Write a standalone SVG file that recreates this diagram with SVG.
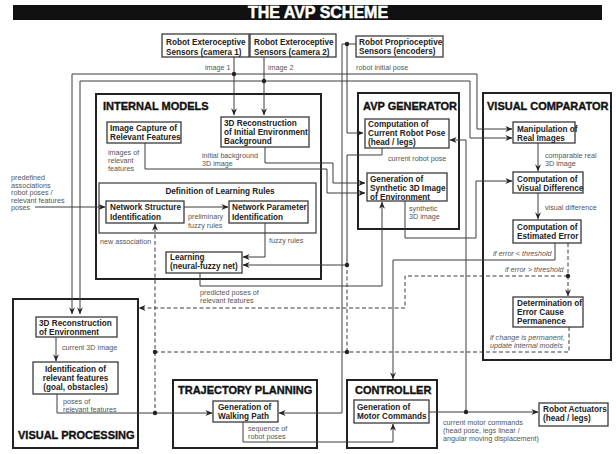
<svg xmlns="http://www.w3.org/2000/svg" width="616" height="454" viewBox="0 0 616 454">
  <style>
    .grp { fill: none; stroke: #222; stroke-width: 2; }
    .box { fill: #fff; stroke: #3a3a3a; stroke-width: 1.3; }
    .gt { font-family: "Liberation Sans", Arial, sans-serif; font-weight: bold; font-size: 11px; fill: #111; stroke: #111; stroke-width: 0.35; }
    .nt { font-family: "Liberation Sans", Arial, sans-serif; font-weight: bold; font-size: 8.2px; fill: #222; }
    .lb { font-family: "Liberation Sans", Arial, sans-serif; font-size: 7.2px; fill: #555; }
    .it { font-style: italic; }
    .ln { fill: none; stroke: #3c3c3c; stroke-width: 1; }
    .ds { fill: none; stroke: #3c3c3c; stroke-width: 1; stroke-dasharray: 4 2.5; }
    .dot { fill: #222; }
  </style>
  <defs>
    <marker id="ah" viewBox="0 0 8 8" refX="7.6" refY="4" markerWidth="7" markerHeight="7" markerUnits="userSpaceOnUse" orient="auto">
      <path d="M0,0.6 L8,4 L0,7.4 L2.6,4 z" fill="#222"/>
    </marker>
  </defs>
  <rect width="616" height="454" fill="#fff"/>

  <!-- title bar -->
  <g id="title">
    <rect x="13" y="5" width="589" height="15" fill="#111"/>
    <text x="318" y="18" text-anchor="middle" font-family="'Liberation Sans', Arial, sans-serif" font-weight="bold" font-size="16" fill="#fff" stroke="#fff" stroke-width="0.5">THE AVP SCHEME</text>
  </g>

  <!-- group frames -->
  <g id="internal-models">
    <rect class="grp" x="96" y="94" width="225" height="185"/>
    <text class="gt" x="103" y="110">INTERNAL MODELS</text>
  </g>
  <g id="avp-generator">
    <rect class="grp" x="358" y="93" width="101" height="136"/>
    <text class="gt" x="363" y="110">AVP GENERATOR</text>
  </g>
  <g id="visual-comparator">
    <rect class="grp" x="483" y="93" width="128" height="267"/>
    <text class="gt" x="487" y="110">VISUAL COMPARATOR</text>
  </g>
  <g id="visual-processing">
    <rect class="grp" x="13" y="299" width="125" height="149"/>
    <text class="gt" x="18" y="438.5">VISUAL PROCESSING</text>
  </g>
  <g id="trajectory-planning">
    <rect class="grp" x="173" y="380" width="144" height="68"/>
    <text class="gt" x="178" y="393.5">TRAJECTORY PLANNING</text>
  </g>
  <g id="controller">
    <rect class="grp" x="347" y="380" width="90" height="68"/>
    <text class="gt" x="355" y="393.5">CONTROLLER</text>
  </g>
  <g id="learning-rules">
    <rect fill="none" stroke="#3a3a3a" stroke-width="1.2" x="99" y="183" width="217" height="50"/>
    <text class="nt" x="220" y="193.5" text-anchor="middle" font-size="8.8">Definition of Learning Rules</text>
  </g>

  <!-- connectors -->
  <g id="connectors">
    <path class="ln" d="M234,57 V115" marker-end="url(#ah)"/>
    <path class="ln" d="M264,57 V115" marker-end="url(#ah)"/>
    <path class="ln" d="M234,74 H72 V314" marker-end="url(#ah)"/>
    <path class="ln" d="M234,74 H477 V129 H512" marker-end="url(#ah)"/>
    <path class="ln" d="M264,81 H80 V314" marker-end="url(#ah)"/>
    <path class="ln" d="M264,81 H470 V138 H512" marker-end="url(#ah)"/>
    <path class="ln" d="M356,44 H342 V413 H279" marker-end="url(#ah)"/>
    <path class="ln" d="M347,44 V133 H363" marker-end="url(#ah)"/>
    <path class="ln" d="M382,148 V155 H347 V265 H243" marker-end="url(#ah)"/>
    <path class="ln" d="M265,147 V163 H333 V183 H365" marker-end="url(#ah)"/>
    <path class="ln" d="M145,143 V169 H327 V193 H365" marker-end="url(#ah)"/>
    <path class="ln" d="M405,201 V238 H476 V181 H512" marker-end="url(#ah)"/>
    <path class="ln" d="M200,273 V286 H382 V202" marker-end="url(#ah)"/>
    <path class="ln" d="M538,143 V171" marker-end="url(#ah)"/>
    <path class="ln" d="M538,193 V219" marker-end="url(#ah)"/>
    <path class="ln" d="M555,243 V260 H393 V379" marker-end="url(#ah)"/>
    <path class="ds" d="M568,243 V296" marker-end="url(#ah)"/>
    <path class="ds" d="M568,276 H405 V308 H139" marker-end="url(#ah)"/>
    <path class="ds" d="M569,327 V352 H155 V224" marker-end="url(#ah)"/>
    <path class="ds" d="M155,352 V413"/>
    <path class="ds" d="M347,352 V265"/>
    <path class="ln" d="M265,223 V257 H243" marker-end="url(#ah)"/>
    <path class="ln" d="M184,207 H228" marker-end="url(#ah)"/>
    <path class="ln" d="M35,207 H105" marker-end="url(#ah)"/>
    <path class="ln" d="M56,337 V361" marker-end="url(#ah)"/>
    <path class="ln" d="M57,394 V413 H212" marker-end="url(#ah)"/>
    <path class="ln" d="M243,422 V442 H393 V424" marker-end="url(#ah)"/>
    <path class="ln" d="M429,412 H538" marker-end="url(#ah)"/>
    <path class="ln" d="M466,412 V140 H450" marker-end="url(#ah)"/>
    <circle class="dot" cx="234" cy="74" r="2.2"/>
    <circle class="dot" cx="264" cy="81" r="2.2"/>
    <circle class="dot" cx="347" cy="44" r="2.2"/>
    <circle class="dot" cx="347" cy="265" r="2.2"/>
    <circle class="dot" cx="568" cy="276" r="2.2"/>
    <circle class="dot" cx="155" cy="352" r="2.2"/>
    <circle class="dot" cx="347" cy="352" r="2.2"/>
    <circle class="dot" cx="155" cy="413" r="2.2"/>
    <circle class="dot" cx="466" cy="412" r="2.2"/>

    <text class="lb" x="205" y="69.5">image 1</text>
    <text class="lb" x="268" y="69.5">image 2</text>
    <text class="lb" x="356" y="69.5">robot initial pose</text>
    <text class="lb" x="108" y="154.5">images of</text>
    <text class="lb" x="108" y="162.5">relevant</text>
    <text class="lb" x="108" y="170.5">features</text>
    <text class="lb" x="202" y="157.5">initial background</text>
    <text class="lb" x="202" y="165.5">3D image</text>
    <text class="lb" x="388" y="160.5">current robot pose</text>
    <text class="lb" x="545" y="157.5">comparable real</text>
    <text class="lb" x="545" y="165.5">3D image</text>
    <text class="lb" x="409" y="210.5">synthetic</text>
    <text class="lb" x="409" y="218.5">3D image</text>
    <text class="lb" x="545" y="209.5">visual difference</text>
    <text class="lb" x="11" y="180">predefined</text>
    <text class="lb" x="11" y="187.6">associations</text>
    <text class="lb" x="11" y="195.2">robot poses /</text>
    <text class="lb" x="11" y="202.8">relevant features</text>
    <text class="lb" x="11" y="210.4">poses</text>
    <text class="lb" x="188" y="219">preliminary</text>
    <text class="lb" x="188" y="227.5">fuzzy rules</text>
    <text class="lb" x="269" y="242.5">fuzzy rules</text>
    <text class="lb" x="100" y="244">new association</text>
    <text class="lb" x="200" y="295">predicted poses of</text>
    <text class="lb" x="200" y="303">relevant features</text>
    <text class="lb it" x="493" y="255.5">if error &lt; threshold</text>
    <text class="lb it" x="505" y="271.5">if error &gt; threshold</text>
    <text class="lb it" x="490" y="339.5">if change is permanent,</text>
    <text class="lb it" x="490" y="347.5">update internal models</text>
    <text class="lb" x="62" y="349.5">current 3D image</text>
    <text class="lb" x="63" y="403.5">poses of</text>
    <text class="lb" x="63" y="411.5">relevant features</text>
    <text class="lb" x="248" y="430.5">sequence of</text>
    <text class="lb" x="248" y="438.5">robot poses</text>
    <text class="lb" x="443" y="424.5">current motor commands</text>
    <text class="lb" x="443" y="432.5">(head pose, legs linear /</text>
    <text class="lb" x="443" y="440.5">angular moving displacement)</text>
  </g>

  <!-- nodes -->
  <g id="camera1">
    <rect class="box" x="162" y="34" width="87" height="23"/>
    <text class="nt" x="166" y="44.5">Robot Exteroceptive</text>
    <text class="nt" x="166" y="54.5">Sensors (camera 1)</text>
  </g>
  <g id="camera2">
    <rect class="box" x="250" y="34" width="86" height="23"/>
    <text class="nt" x="254" y="44.5">Robot Exteroceptive</text>
    <text class="nt" x="254" y="54.5">Sensors (camera 2)</text>
  </g>
  <g id="encoders">
    <rect class="box" x="356" y="36" width="87" height="21"/>
    <text class="nt" x="359" y="44.5">Robot Proprioceptive</text>
    <text class="nt" x="359" y="54">Sensors (encoders)</text>
  </g>
  <g id="image-capture">
    <rect class="box" x="107" y="122" width="74" height="21"/>
    <text class="nt" x="110" y="130.5">Image Capture of</text>
    <text class="nt" x="110" y="139.5">Relevant Features</text>
  </g>
  <g id="initial-reconstruction">
    <rect class="box" x="221" y="117" width="88" height="30"/>
    <text class="nt" x="224" y="125.5">3D Reconstruction</text>
    <text class="nt" x="224" y="134.5">of Initial Environment</text>
    <text class="nt" x="224" y="143.5">Background</text>
  </g>
  <g id="network-structure">
    <rect class="box" x="106" y="201" width="78" height="22"/>
    <text class="nt" x="110" y="209.5">Network Structure</text>
    <text class="nt" x="110" y="219.5">Identification</text>
  </g>
  <g id="network-parameter">
    <rect class="box" x="229" y="201" width="79" height="22"/>
    <text class="nt" x="232" y="209.5">Network Parameter</text>
    <text class="nt" x="232" y="219.5">Identification</text>
  </g>
  <g id="learning">
    <rect class="box" x="166" y="252" width="76" height="21"/>
    <text class="nt" x="170" y="259.5">Learning</text>
    <text class="nt" x="170" y="268.5">(neural-fuzzy net)</text>
  </g>
  <g id="robot-pose">
    <rect class="box" x="365" y="119" width="84" height="29"/>
    <text class="nt" x="368" y="127">Computation of</text>
    <text class="nt" x="368" y="136">Current Robot Pose</text>
    <text class="nt" x="368" y="145">(head / legs)</text>
  </g>
  <g id="synthetic-image">
    <rect class="box" x="367" y="173" width="80" height="28"/>
    <text class="nt" x="370" y="182">Generation of</text>
    <text class="nt" x="370" y="191">Synthetic 3D Image</text>
    <text class="nt" x="370" y="200">of Environment</text>
  </g>
  <g id="manipulation">
    <rect class="box" x="513" y="122" width="62" height="21"/>
    <text class="nt" x="517" y="131.5">Manipulation of</text>
    <text class="nt" x="517" y="140.5">Real Images</text>
  </g>
  <g id="visual-difference">
    <rect class="box" x="513" y="172" width="70" height="21"/>
    <text class="nt" x="517" y="181.5">Computation of</text>
    <text class="nt" x="517" y="190.5">Visual Difference</text>
  </g>
  <g id="estimated-error">
    <rect class="box" x="513" y="220" width="68" height="23"/>
    <text class="nt" x="517" y="229.5">Computation of</text>
    <text class="nt" x="517" y="238.5">Estimated Error</text>
  </g>
  <g id="error-cause">
    <rect class="box" x="513" y="297" width="70" height="30"/>
    <text class="nt" x="517" y="306">Determination of</text>
    <text class="nt" x="517" y="315">Error Cause</text>
    <text class="nt" x="517" y="324">Permanence</text>
  </g>
  <g id="environment-reconstruction">
    <rect class="box" x="36" y="317" width="81" height="20"/>
    <text class="nt" x="39" y="325.5">3D Reconstruction</text>
    <text class="nt" x="39" y="334.5">of Environment</text>
  </g>
  <g id="feature-identification">
    <rect class="box" x="33" y="362" width="85" height="32"/>
    <text class="nt" x="75.5" y="372" text-anchor="middle">Identification of</text>
    <text class="nt" x="75.5" y="381" text-anchor="middle">relevant features</text>
    <text class="nt" x="75.5" y="390" text-anchor="middle">(goal, obstacles)</text>
  </g>
  <g id="walking-path">
    <rect class="box" x="213" y="401" width="65" height="21"/>
    <text class="nt" x="218" y="409.5">Generation of</text>
    <text class="nt" x="218" y="418.5">Walking Path</text>
  </g>
  <g id="motor-commands">
    <rect class="box" x="354" y="400" width="75" height="23"/>
    <text class="nt" x="357" y="409.5">Generation of</text>
    <text class="nt" x="357" y="419">Motor Commands</text>
  </g>
  <g id="actuators">
    <rect class="box" x="539" y="403" width="69" height="23"/>
    <text class="nt" x="543" y="412">Robot Actuators</text>
    <text class="nt" x="543" y="421">(head / legs)</text>
  </g>
</svg>
